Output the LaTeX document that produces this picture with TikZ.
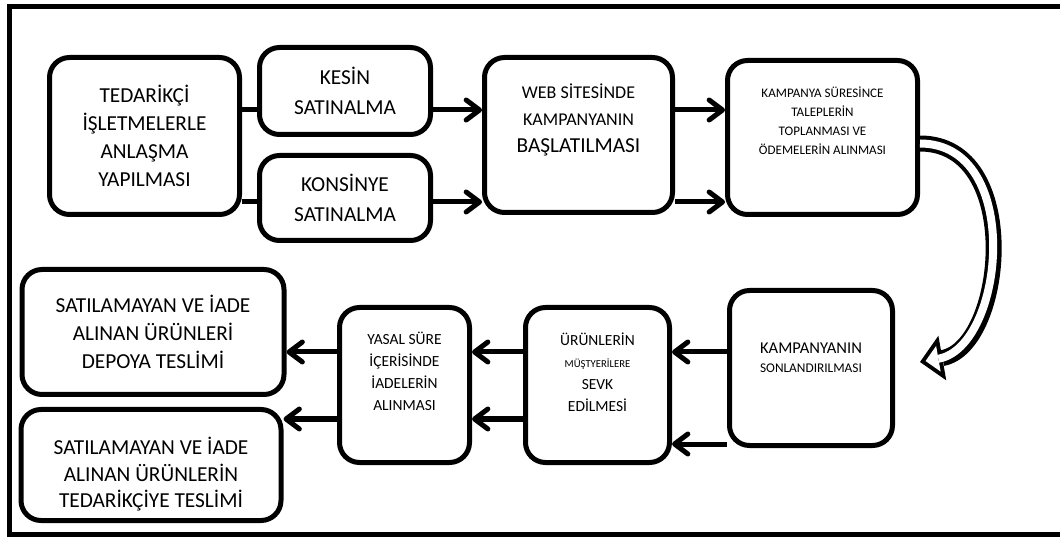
\documentclass[tikz,border=0pt]{standalone}
\usepackage{fontspec}
\setmainfont{Carlito}
\usetikzlibrary{arrows.meta}

\begin{document}
\begin{tikzpicture}[x=0.75pt, y=-0.75pt]
\tikzset{box/.style 2 args={draw, line width=3.75pt, rounded corners=15pt, minimum width=#1*0.75pt, minimum height=#2*0.75pt, inner sep=0pt}}
\tikzset{yazi/.style={align=center, inner sep=0pt}}
\tikzset{buyuk/.style={font=\fontsize{16}{21}\selectfont}}
\tikzset{orta/.style={font=\fontsize{13.5}{20.5}\selectfont}}
\tikzset{kucuk/.style={font=\fontsize{11.6}{16.5}\selectfont}}
\tikzset{minik/.style={font=\fontsize{9.8}{14.3}\selectfont}}
\tikzset{baglanti/.style={line width=3.75pt}}
\tikzset{flow/.style={line width=3.75pt, -{Straight Barb[length=10pt, width=15pt, round]}}}
\tikzset{kalinok/.style={line width=12pt, -{Triangle[length=17pt, width=34pt, line width=0pt]}}}
\tikzset{kalinici/.style={white, line width=6pt, shorten >=4.24pt, -{Triangle[length=9.76pt, width=19.5pt, line width=0pt]}}}

\useasboundingbox (0,0) rectangle (1060,541);
\draw[line width=3.75pt] (9.5,7) rectangle (1090,534.5);

% ust sira
\node[box={190}{157}, label={[yazi, buyuk, name=tedyazi]center:{TEDARİKÇİ\\İŞLETMELERLE\\ANLAŞMA\\YAPILMASI}}] (ted) at (144.5,136) {};
\node[box={171}{87}, label={[yazi, font=\fontsize{16}{22.5}\selectfont, name=kesinyazi]center:{KESİN\\SATINALMA}}] (kesin) at (345,91) {};
\node[box={171}{85}, label={[yazi, font=\fontsize{16}{22.5}\selectfont, name=konsinyeyazi]center:{KONSİNYE\\SATINALMA}}] (konsinye) at (345,198) {};
\node[box={188}{155}, label={[yazi, orta, yshift=11.25pt, name=webyazi]center:{WEB SİTESİNDE\\KAMPANYANIN\\{\fontsize{16}{20.5}\selectfont BAŞLATILMASI}}}] (web) at (578.5,135) {};
\node[box={190}{154}, label={[yazi, minik, yshift=12.75pt, name=talepyazi]center:{KAMPANYA SÜRESİNCE\\TALEPLERİN\\TOPLANMASI VE\\ÖDEMELERİN ALINMASI}}] (talep) at (822.5,137.5) {};

% alt sira
\node[box={163}{155}, label={[yazi, font=\fontsize{12.4}{14.5}\selectfont, yshift=7.5pt, name=bitisyazi]center:{KAMPANYANIN\\{\fontsize{10}{14.5}\selectfont SONLANDIRILMASI}}}] (bitis) at (811,368) {};
\node[box={144}{155}, label={[yazi, kucuk, yshift=9.75pt, name=sevkyazi]center:{ÜRÜNLERİN\\{\fontsize{8}{16.5}\selectfont MÜŞTYERİLERE}\\SEVK\\EDİLMESİ}}] (sevk) at (597.5,385) {};
\node[box={130}{155}, label={[yazi, kucuk, yshift=10.5pt, name=iadeyazi]center:{YASAL SÜRE\\İÇERİSİNDE\\İADELERİN\\ALINMASI}}] (iade) at (404.5,385) {};
\node[box={262}{125}, label={[yazi, font=\fontsize{16}{21}\selectfont, name=depoyazi]center:{SATILAMAYAN VE İADE\\ALINAN ÜRÜNLERİ\\DEPOYA TESLİMİ}}] (depo) at (153,332) {};
\node[box={260}{111}, label={[yazi, font=\fontsize{16}{20}\selectfont, yshift=-7pt, name=tedarikyazi]center:{SATILAMAYAN VE İADE\\ALINAN ÜRÜNLERİN\\TEDARİKÇİYE TESLİMİ}}] (tedarik) at (151,465) {};

% ok seviyeleri
\coordinate (r1) at (0,110);
\coordinate (r2) at (0,202);
\coordinate (r3) at (0,352);
\coordinate (r4) at (0,444);
\coordinate (r5) at (0,419);
\coordinate (uc) at ([xshift=18.75pt, yshift=4.5pt]bitis.east);

\draw[baglanti] (ted.east |- r1) -- (kesin.west |- r1);
\draw[baglanti] (ted.east |- r2) -- (konsinye.west |- r2);
\draw[flow] (kesin.east |- r1) -- (web.west |- r1);
\draw[flow] (konsinye.east |- r2) -- (web.west |- r2);
\draw[flow] (web.east |- r1) -- (talep.west |- r1);
\draw[flow] (web.east |- r2) -- (talep.west |- r2);
% kivrik ok
\draw[kalinok] ([yshift=-4.5pt]talep.east) .. controls (1024,143.5) and (1005,347) .. (uc);
\draw[kalinici] ([yshift=-4.5pt]talep.east) .. controls (1024,143.5) and (1005,347) .. (uc);
\draw[flow] (bitis.west |- r3) -- (sevk.east |- r3);
\draw[flow] (bitis.west |- r4) -- (sevk.east |- r4);
\draw[flow] (sevk.west |- r3) -- (iade.east |- r3);
\draw[flow] (sevk.west |- r5) -- (iade.east |- r5);
\draw[flow] (iade.west |- r3) -- (depo.east |- r3);
\draw[flow] (iade.west |- r5) -- (tedarik.east |- r5);
\end{tikzpicture}
\end{document}
